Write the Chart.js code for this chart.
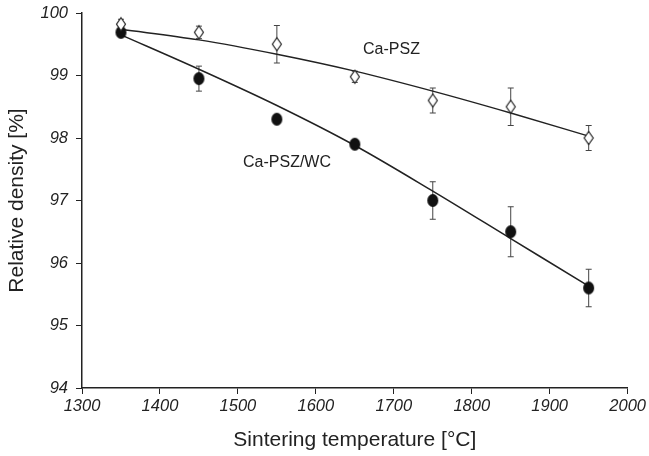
<!DOCTYPE html>
<html>
<head>
<meta charset="utf-8">
<script src="https://cdn.jsdelivr.net/npm/chart.js@4.4.1/dist/chart.umd.min.js"></script>
<style>
html, body { margin: 0; padding: 0; background: #fff; }
</style>
</head>
<body>
<canvas id="myChart" width="649" height="456"></canvas>
<script>
// Temperaturas de sinterizado (°C)
const temperaturas = [1350, 1450, 1550, 1650, 1750, 1850, 1950];

// Densidad relativa medida (%) y su desviación
const densidadPSZ = [99.82, 99.69, 99.5, 98.98, 98.6, 98.5, 98.0];
const errorPSZ = [0.08, 0.1, 0.3, 0.09, 0.2, 0.3, 0.2];
const densidadWC = [99.69, 98.95, 98.3, 97.9, 97.0, 96.5, 95.6];
const errorWC = [0.05, 0.2, 0.05, 0.06, 0.3, 0.4, 0.3];

// Curvas de ajuste
const ajustePSZ = [99.74, 99.57, 99.34, 99.07, 98.75, 98.4, 98.03];
const ajusteWC = [99.65, 99.1, 98.52, 97.88, 97.15, 96.39, 95.63];

// Etiquetas de ejes
const ticksX = [1300, 1400, 1500, 1600, 1700, 1800, 1900, 2000];
const ticksY = [94, 95, 96, 97, 98, 99, 100];

const fuente = '"Liberation Sans", Arial, Helvetica, sans-serif';

// Marcadores: rombo abierto y elipse rellena
function crearRombo() {
    const c = document.createElement('canvas');
    c.width = 12; c.height = 16;
    const g = c.getContext('2d');
    g.beginPath();
    g.moveTo(6, 1.5); g.lineTo(10.5, 8); g.lineTo(6, 14.5); g.lineTo(1.5, 8);
    g.closePath();
    g.fillStyle = '#fff';
    g.fill();
    g.lineWidth = 1.2;
    g.strokeStyle = '#222';
    g.stroke();
    return c;
}

function crearCirculo() {
    const c = document.createElement('canvas');
    c.width = 13; c.height = 15;
    const g = c.getContext('2d');
    g.beginPath();
    g.ellipse(6.5, 7.5, 5.5, 6.5, 0, 0, Math.PI * 2);
    g.fillStyle = '#111';
    g.fill();
    return c;
}

const puntos = (ys) => temperaturas.map((t, i) => ({ x: t, y: ys[i] }));

// Plugin para barras de error
const barrasError = {
    id: 'barrasError',
    beforeDatasetsDraw(chart) {
        const ctx = chart.ctx;
        const sx = chart.scales.x;
        const sy = chart.scales.y;
        const series = [[densidadPSZ, errorPSZ], [densidadWC, errorWC]];
        ctx.save();
        ctx.strokeStyle = '#444';
        ctx.lineWidth = 1;
        series.forEach(([vals, errs]) => {
            vals.forEach((v, i) => {
                const x = sx.getPixelForValue(temperaturas[i]);
                const y1 = sy.getPixelForValue(v + errs[i]);
                const y2 = sy.getPixelForValue(v - errs[i]);
                ctx.beginPath();
                ctx.moveTo(x, y1); ctx.lineTo(x, y2);
                ctx.moveTo(x - 3, y1); ctx.lineTo(x + 3, y1);
                ctx.moveTo(x - 3, y2); ctx.lineTo(x + 3, y2);
                ctx.stroke();
            });
        });
        ctx.restore();
    }
};

// Plugin para las etiquetas de las series
const etiquetasSeries = {
    id: 'etiquetasSeries',
    afterDatasetsDraw(chart) {
        const ctx = chart.ctx;
        const sx = chart.scales.x;
        const sy = chart.scales.y;
        ctx.save();
        ctx.font = '16px ' + fuente;
        ctx.fillStyle = '#222';
        ctx.textAlign = 'center';
        ctx.textBaseline = 'middle';
        ctx.fillText('Ca-PSZ', sx.getPixelForValue(1697), sy.getPixelForValue(99.42));
        ctx.fillText('Ca-PSZ/WC', sx.getPixelForValue(1563), sy.getPixelForValue(97.6));
        ctx.restore();
    }
};

const ctx = document.getElementById('myChart').getContext('2d');

new Chart(ctx, {
    type: 'scatter',
    data: {
        datasets: [
            {
                label: 'Ca-PSZ',
                data: puntos(densidadPSZ),
                pointStyle: crearRombo(),
                showLine: false,
                order: 0
            },
            {
                label: 'Ca-PSZ/WC',
                data: puntos(densidadWC),
                pointStyle: crearCirculo(),
                showLine: false,
                order: 0
            },
            {
                label: 'ajuste Ca-PSZ',
                data: puntos(ajustePSZ),
                showLine: true,
                pointRadius: 0,
                borderColor: '#222',
                borderWidth: 1.5,
                cubicInterpolationMode: 'monotone',
                order: 1
            },
            {
                label: 'ajuste Ca-PSZ/WC',
                data: puntos(ajusteWC),
                showLine: true,
                pointRadius: 0,
                borderColor: '#222',
                borderWidth: 1.5,
                cubicInterpolationMode: 'monotone',
                order: 1
            }
        ]
    },
    options: {
        responsive: false,
        animation: false,
        layout: {
            padding: { top: 13, right: 21, left: 0, bottom: 0 }
        },
        plugins: {
            legend: { display: false },
            tooltip: { enabled: false }
        },
        scales: {
            x: {
                type: 'linear',
                min: 1300,
                max: 2000,
                afterBuildTicks: (scale) => { scale.ticks = ticksX.map(v => ({ value: v })); },
                afterFit: (scale) => { scale.height = 68; },
                grid: { drawOnChartArea: false, drawTicks: true, tickLength: 6, color: '#222' },
                border: { display: true, color: '#222', width: 1.5 },
                ticks: {
                    color: '#222',
                    padding: 3,
                    maxRotation: 0,
                    callback: (v) => String(v),
                    font: { family: fuente, size: 16.5, style: 'italic' }
                },
                title: {
                    display: true,
                    text: 'Sintering temperature [°C]',
                    color: '#222',
                    padding: { top: 0, bottom: 3 },
                    font: { family: fuente, size: 21 }
                }
            },
            y: {
                type: 'linear',
                min: 94,
                max: 100,
                afterBuildTicks: (scale) => { scale.ticks = ticksY.map(v => ({ value: v })); },
                afterFit: (scale) => {
                    scale.width = 82;
                    scale.paddingTop = 0;
                    scale.paddingBottom = 0;
                },
                grid: { drawOnChartArea: false, drawTicks: true, tickLength: 6, color: '#222' },
                border: { display: true, color: '#222', width: 1.5 },
                ticks: {
                    color: '#222',
                    padding: 8,
                    callback: (v) => String(v),
                    font: { family: fuente, size: 16.5, style: 'italic' }
                },
                title: {
                    display: true,
                    text: 'Relative density [%]',
                    color: '#222',
                    padding: { top: 5, bottom: 0 },
                    font: { family: fuente, size: 21 }
                }
            }
        }
    },
    plugins: [barrasError, etiquetasSeries]
});
</script>
</body>
</html>
